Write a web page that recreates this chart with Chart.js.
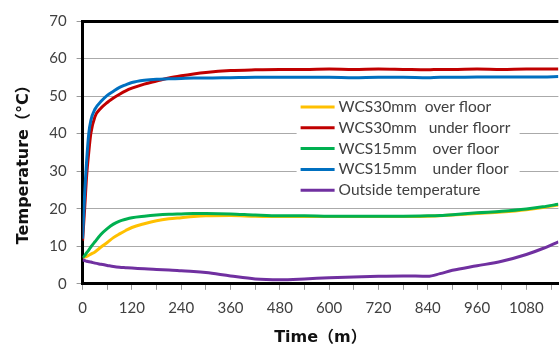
<!DOCTYPE html>
<html>
<head>
<meta charset="utf-8">
<script src="https://cdn.jsdelivr.net/npm/chart.js@4/dist/chart.umd.min.js"></script>
<style>
html,body{margin:0;padding:0;background:#fff;}
#wrap{width:560px;height:345px;}
</style>
</head>
<body>
<div id="wrap"><canvas id="c" width="560" height="345"></canvas></div>
<script>
const timeMin = [0,5,10,15,20,30,45,60,75,90,105,120,150,180,210,240,270,300,360,420,480,540,600,660,720,780,840,870,900,960,1020,1080,1120,1158];
const wcs30Over  = [7.0,7.1,7.3,7.6,7.9,8.5,9.8,11.0,12.3,13.3,14.2,15.0,16.0,16.8,17.3,17.6,17.9,18.1,18.2,18.0,17.9,17.9,17.9,17.9,17.9,17.9,18.0,18.1,18.3,18.7,19.1,19.7,20.3,21.0];
const wcs30Under = [11.5,20,29,35,40,44.5,46.8,48.3,49.5,50.5,51.4,52.1,53.2,54.0,54.8,55.4,55.9,56.3,56.8,57.0,57.1,57.1,57.2,57.1,57.2,57.1,57.0,57.1,57.1,57.2,57.1,57.2,57.2,57.2];
const wcs15Over  = [7.0,7.5,8.3,9.0,9.8,11.2,13.2,14.7,15.9,16.7,17.2,17.6,18.0,18.3,18.5,18.6,18.7,18.7,18.6,18.3,18.1,18.1,18.0,18.0,18.0,18.0,18.1,18.2,18.4,18.9,19.3,19.9,20.5,21.2];
const wcs15Under = [12,24,33,40,43.5,46.5,48.6,50.2,51.3,52.3,53.0,53.6,54.2,54.5,54.6,54.7,54.8,54.8,54.9,55.0,55.0,55.0,55.0,54.9,55.0,55.0,54.9,55.0,55.0,55.1,55.1,55.1,55.1,55.2];
const outside    = [6.4,6.2,6.0,5.9,5.8,5.5,5.2,4.9,4.6,4.4,4.3,4.2,4.0,3.8,3.7,3.5,3.3,3.0,2.1,1.3,1.1,1.3,1.6,1.8,2.0,2.1,2.0,2.7,3.6,4.8,6.0,7.8,9.4,11.2];
const seriesLabels = ["WCS30mm  over floor","WCS30mm   under floorr","WCS15mm    over floor","WCS15mm    under floor","Outside temperature"];
const xTickValues = [0,60,120,180,240,300,360,420,480,540,600,660,720,780,840,900,960,1020,1080,1140];
const xLabelValues = [0,120,240,360,480,600,720,840,960,1080];
const yTickValues = [0,10,20,30,40,50,60,70];

const colors = ['#FFC000','#C00000','#00B050','#0070C0','#7030A0'];
const seriesData = [wcs30Over, wcs30Under, wcs15Over, wcs15Under, outside];

function pts(arr){ return arr.map((v,i)=>({x:timeMin[i], y:v})); }

const datasets = seriesData.map((arr,i)=>({
  label: seriesLabels[i],
  data: pts(arr),
  borderColor: colors[i],
  backgroundColor: colors[i],
  borderWidth: 3,
  pointRadius: 0,
  cubicInterpolationMode: 'monotone',
  fill: false,
  order: 5 - i
}));

const insideLegend = {
  id: 'insideLegend',
  afterDatasetsDraw(chart){
    const ctx = chart.ctx;
    const a = chart.chartArea;
    const bx = a.left + 214, by = a.top + 76, bw = 223, bh = 103;
    ctx.save();
    ctx.fillStyle = '#fff';
    ctx.fillRect(bx, by, bw, bh);
    ctx.font = '15.5px Lato, "DejaVu Sans", sans-serif';
    ctx.textBaseline = 'middle';
    ctx.fillStyle = '#404040';
    chart.data.datasets.forEach((ds, i)=>{
      const y = by + 10 + i*20.8;
      ctx.strokeStyle = ds.borderColor;
      ctx.lineWidth = 3;
      ctx.beginPath();
      ctx.moveTo(bx + 4, y);
      ctx.lineTo(bx + 38, y);
      ctx.stroke();
      ctx.fillText(ds.label, bx + 42, y);
    });
    ctx.restore();
  }
};

new Chart(document.getElementById('c'), {
  type: 'line',
  data: { datasets },
  plugins: [insideLegend],
  options: {
    responsive: false,
    animation: false,
    devicePixelRatio: 1,
    layout: { padding: { top: 21, right: 0, left: 14, bottom: 0 } },
    plugins: { legend: { display: false }, tooltip: { enabled: false } },
    scales: {
      x: {
        type: 'linear',
        min: 0, max: 1158,
        afterBuildTicks(scale){ scale.ticks = xTickValues.map(v=>({value:v})); },
        ticks: {
          autoSkip: false,
          maxRotation: 0,
          padding: 9,
          color: '#404040',
          font: { family: 'Lato, "DejaVu Sans", sans-serif', size: 15 },
          callback(v){ return xLabelValues.includes(v) ? String(v) : ''; }
        },
        grid: { drawOnChartArea: false, drawTicks: true, tickLength: 6, tickColor: '#999', color: '#999' },
        border: { color: '#000', width: 3 },
        title: {
          display: true,
          text: 'Time（m）',
          color: '#111',
          font: { family: '"DejaVu Sans", "Noto Sans CJK SC", sans-serif', size: 16, weight: 'bold', lineHeight: 0.7 },
          padding: { top: 6.5, bottom: 1.5 }
        }
      },
      y: {
        min: 0, max: 70,
        afterBuildTicks(scale){ scale.ticks = yTickValues.map(v=>({value:v})); },
        ticks: {
          padding: 10,
          color: '#404040',
          font: { family: 'Lato, "DejaVu Sans", sans-serif', size: 15 }
        },
        grid: {
          color: (c)=> (c.tick && c.tick.value === 70) ? '#000' : '#aaa',
          lineWidth: (c)=> (c.tick && c.tick.value === 70) ? 3 : 1,
          tickColor: '#999',
          tickWidth: 1,
          tickLength: 6
        },
        border: { color: '#000', width: 3 },
        title: {
          display: true,
          text: 'Temperature（°C）   ',
          color: '#111',
          font: { family: '"DejaVu Sans", "Noto Sans CJK SC", sans-serif', size: 16, weight: 'bold' },
          padding: { top: 0, bottom: 6 }
        }
      }
    }
  }
});
</script>
</body>
</html>
